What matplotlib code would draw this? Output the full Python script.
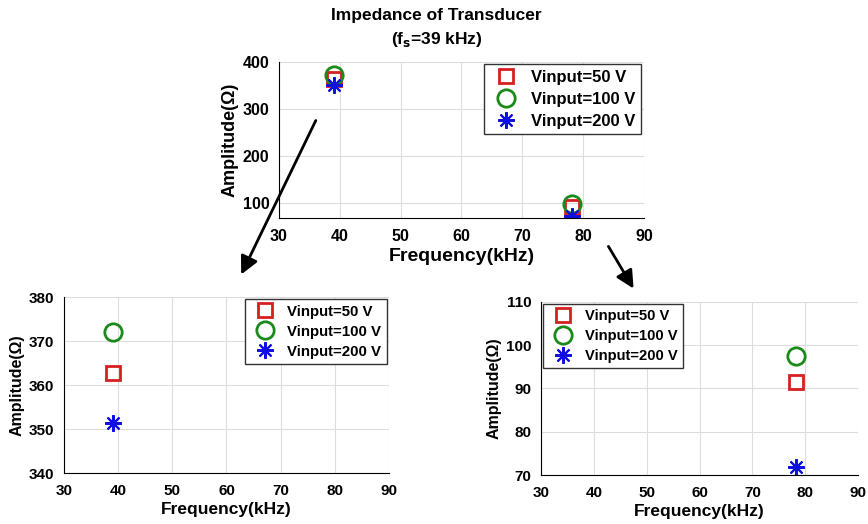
import matplotlib.pyplot as plt
from matplotlib.patches import FancyArrowPatch

plt.rcParams["font.family"] = ["Liberation Sans", "DejaVu Sans"]
plt.rcParams["font.weight"] = "bold"

freq_low = [39.0]
freq_high = [78.2]
labels = ["Vinput=50 V", "Vinput=100 V", "Vinput=200 V"]

# amplitude near resonance (~39 kHz) and near 78 kHz
amp_low = {"Vinput=50 V": 362.8, "Vinput=100 V": 372.1, "Vinput=200 V": 351.3}
amp_high = {"Vinput=50 V": 91.6, "Vinput=100 V": 97.4, "Vinput=200 V": 71.8}

# MATLAB-like asterisk: 8 spokes
asterisk = (8, 2, 0)
styles = {
    "Vinput=50 V": dict(marker="s", color="#d62020", ms=9.5, mew=2, mfc="none"),
    "Vinput=100 V": dict(marker="o", color="#1a8a1a", ms=12.5, mew=2, mfc="none"),
    "Vinput=200 V": dict(marker=asterisk, color="#1010e0", ms=12, mew=1.5),
}


def style_axes(ax, ylim, yticks, tick_size, label_size):
    ax.set_xlim(30, 90)
    ax.set_ylim(*ylim)
    ax.set_xticks(range(30, 91, 10))
    ax.set_yticks(yticks)
    ax.grid(True, color="#dddddd", linewidth=0.8)
    ax.set_axisbelow(True)
    for side in ("top", "right"):
        ax.spines[side].set_visible(False)
    ax.tick_params(labelsize=tick_size, length=0)
    ax.tick_params(axis="x", pad=8)
    ax.tick_params(axis="y", pad=7)
    ax.set_xlabel("Frequency(kHz)", fontsize=label_size, fontweight="bold", labelpad=3)
    ax.set_ylabel("Amplitude(Ω)", fontsize=label_size - 1, fontweight="bold", labelpad=3)


def plot_points(ax, data_list):
    for lab in labels:
        xs, ys = [], []
        for x, amp in data_list:
            xs.append(x)
            ys.append(amp[lab])
        ax.plot(xs, ys, linestyle="none", label=lab, **styles[lab])


def add_legend(ax, loc, size):
    ax.legend(loc=loc, frameon=True, fancybox=False, edgecolor="#333333",
              framealpha=1, borderpad=0.35, handletextpad=0.5, labelspacing=0.4,
              handlelength=2.0, borderaxespad=0.15, prop={"weight": "bold", "size": size})


fig = plt.figure(figsize=(8.68, 5.24), dpi=100)

# top overview
ax_top = fig.add_axes([0.3214, 0.584, 0.4205, 0.2977])
plot_points(ax_top, [(freq_low[0], amp_low), (freq_high[0], amp_high)])
style_axes(ax_top, (68, 400), [100, 200, 300, 400], 11.5, 14)
add_legend(ax_top, "upper right", 12)
fig.text(0.503, 0.97, "Impedance of Transducer", ha="center", va="center",
         fontsize=12.5, fontweight="bold")
fig.text(0.503, 0.925, r"(f$_\mathbf{s}$=39 kHz)", ha="center", va="center",
         fontsize=12.5, fontweight="bold")

# zoom near 39 kHz
ax_l = fig.add_axes([0.0737, 0.0973, 0.3744, 0.3359])
plot_points(ax_l, [(freq_low[0], amp_low)])
style_axes(ax_l, (340, 380), [340, 350, 360, 370, 380], 11, 12.5)
add_legend(ax_l, "upper right", 10.8)

# zoom near 78 kHz
ax_r = fig.add_axes([0.6233, 0.0935, 0.3652, 0.3302])
plot_points(ax_r, [(freq_high[0], amp_high)])
style_axes(ax_r, (70, 110), [70, 80, 90, 100, 110], 11, 12.5)
add_legend(ax_r, "upper left", 10.6)

# arrows pointing to zoomed views
arrow = dict(arrowstyle="-|>,head_length=0.9,head_width=0.45", color="black", lw=2)
fig.add_artist(FancyArrowPatch((317 / 868, 1 - 118 / 524), (240 / 868, 1 - 277 / 524),
                               transform=fig.transFigure, mutation_scale=12, **arrow))
fig.add_artist(FancyArrowPatch((607 / 868, 1 - 244 / 524), (635 / 868, 1 - 291 / 524),
                               transform=fig.transFigure, mutation_scale=12, **arrow))

fig.savefig("out.png", dpi=100)
